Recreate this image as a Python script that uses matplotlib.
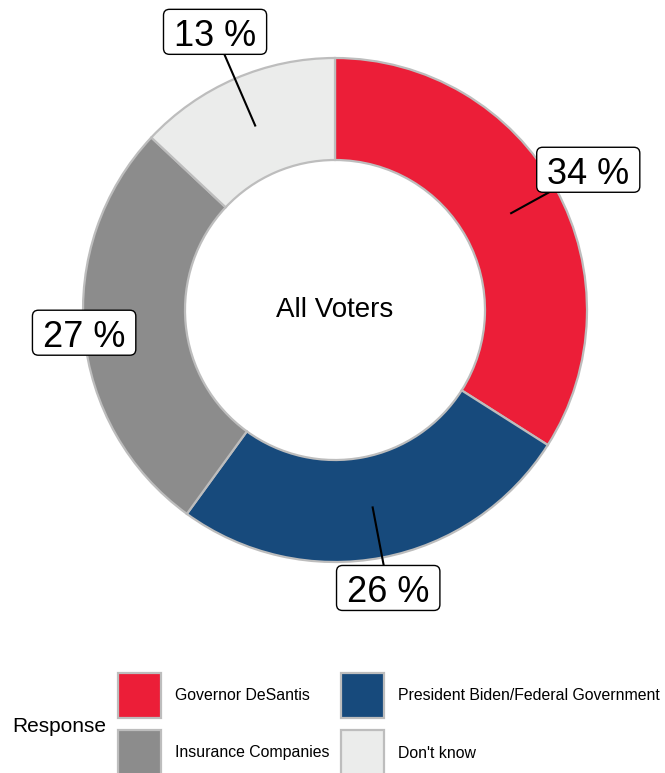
import matplotlib.pyplot as plt
from matplotlib.patches import Rectangle, FancyBboxPatch
import numpy as np

# data
responses = ['Governor DeSantis', 'President Biden/Federal Government',
             'Insurance Companies', "Don't know"]
shares = [34, 26, 27, 13]
colors = ['#EC1E38', '#174A7C', '#8C8C8C', '#EBECEB']
center_label = 'All Voters'
legend_title = 'Response'

plt.rcParams['font.family'] = ['Liberation Sans', 'DejaVu Sans']

W, H = 665, 773
fig = plt.figure(figsize=(W / 100, H / 100), dpi=100)
ax = fig.add_axes([0, 0, 1, 1])
ax.set_xlim(0, W)
ax.set_ylim(0, H)

cx, cy = 335, H - 310
r_out, r_in = 252, 150
edge = '#BDBDBD'

ax.pie(shares, colors=colors, startangle=90, counterclock=False,
       center=(cx, cy), radius=r_out,
       wedgeprops=dict(width=r_out - r_in, edgecolor=edge, linewidth=1.6))
ax.set_xlim(0, W)
ax.set_ylim(0, H)
ax.set_aspect('auto')

ax.text(cx, cy, center_label, ha='center', va='center', fontsize=20)

# labels with leader lines
fig.canvas.draw()
renderer = fig.canvas.get_renderer()
label_r = [289, 284, 252, 302]
cum = np.cumsum(shares) - np.array(shares) / 2
r_mid = (r_out + r_in) / 2
fs = 26
cap = 0.716 * fs * 100 / 72
for s, c, lr in zip(shares, cum, label_r):
    th = np.deg2rad(c / sum(shares) * 360)
    x0, y0 = cx + r_mid * np.sin(th), cy + r_mid * np.cos(th)
    x1, y1 = cx + lr * np.sin(th), cy + lr * np.cos(th)
    ax.plot([x0, x1], [y0, y1], color='black', lw=1.5, zorder=4)
    t = ax.text(x1, y1 - cap / 2, f'{s} %', ha='center', va='baseline',
                fontsize=fs, zorder=6)
    w = t.get_window_extent(renderer).width + 21
    h = 45
    ax.add_patch(FancyBboxPatch((x1 - w / 2, y1 - h / 2 + 1), w, h,
                                boxstyle='round,pad=0,rounding_size=6',
                                facecolor='white', edgecolor='black',
                                linewidth=1.0, zorder=5))

# legend drawn by hand
ax.text(12, 46, legend_title, ha='left', va='center', fontsize=15)
key_x = [118, 341, 118, 341]
key_y = [55, 55, -2, -2]
for name, col, kx, ky in zip(responses, colors, key_x, key_y):
    ax.add_patch(Rectangle((kx, ky), 43, 45, facecolor=col, edgecolor=edge,
                           linewidth=1.6, clip_on=False))
    ax.text(kx + 57, ky + 22, name, ha='left', va='center', fontsize=11.4)

ax.axis('off')

fig.savefig('out.png', dpi=100, facecolor='white')
